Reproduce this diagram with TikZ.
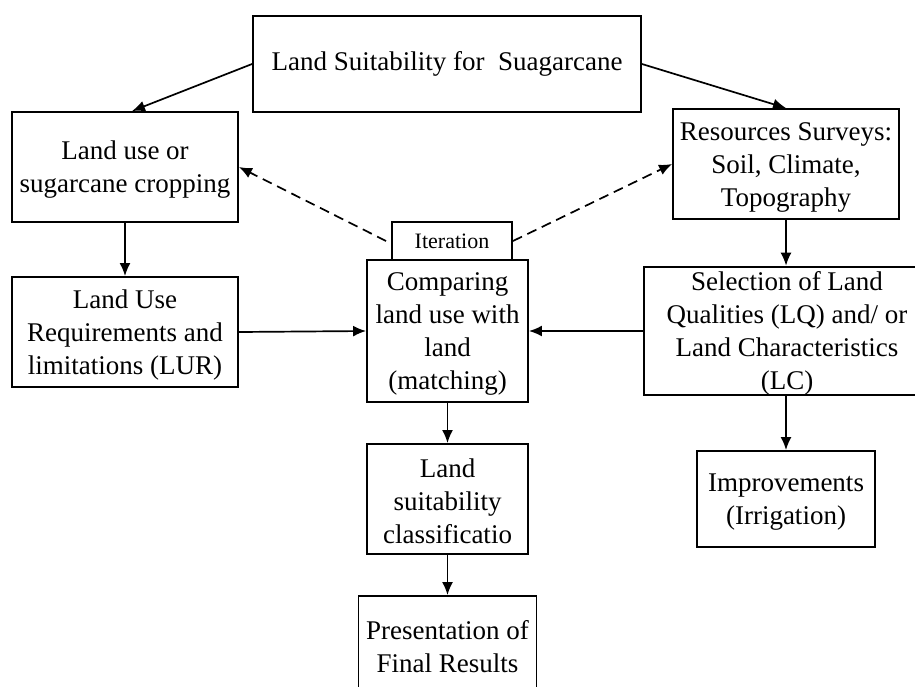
\documentclass[tikz,border=0pt]{standalone}
\usepackage{fontspec}
\setmainfont{Liberation Serif}
\usetikzlibrary{arrows.meta}
\newcommand\topstrut{\rule{0pt}{24pt}}
\begin{document}
\begin{tikzpicture}[x=1pt,y=-1pt,
  box/.style={draw, line width=1.9pt, rectangle, align=center, inner sep=0pt,
    font=\fontsize{27}{33}\selectfont},
  conn/.style={line width=1.7pt, -{Latex[length=13pt,width=11pt]}},
  dconn/.style={conn, dash pattern=on 10pt off 6pt}]
\useasboundingbox (0,0) rectangle (915,686);
\clip (0,0) rectangle (915,686);
\node[box, minimum width=388pt, minimum height=96pt] (top) at (447,64)
  {Land Suitability for\ \ Suagarcane};
\node[box, minimum width=226pt, minimum height=110pt] (left) at (125,167)
  {\topstrut Land use or\\sugarcane cropping};
\node[box, minimum width=226pt, minimum height=110pt] (right) at (786,164)
  {\topstrut Resources Surveys:\\Soil, Climate,\\Topography};
\node[box, minimum width=120pt, minimum height=38pt, font=\fontsize{22}{26}\selectfont] (iter) at (452,241)
  {Iteration};
\node[box, minimum width=161pt, minimum height=142pt] (comp) at (447.5,331)
  {\topstrut Comparing\\land use with\\land\\(matching)};
\node[box, minimum width=226pt, minimum height=110pt] (lur) at (125,332)
  {\topstrut Land Use\\Requirements and\\limitations (LUR)};
\node[box, minimum width=286pt, minimum height=128pt] (sel) at (787,331)
  {\topstrut Selection of Land\\Qualities (LQ) and/ or\\Land Characteristics\\(LC)};
\node[box, minimum width=161pt, minimum height=110pt] (lsc) at (447.5,499)
  {\topstrut Land\\suitability\\classificatio};
\node[box, minimum width=178pt, minimum height=96pt] (imp) at (786,499)
  {\topstrut Improvements\\(Irrigation)};
\node[box, minimum width=178pt, minimum height=102pt] (pres) at (447.5,647)
  {Presentation of\\Final Results};

\draw[conn] (top.west) -- ([xshift=7pt]left.north);
\draw[conn] (top.east) -- (right.north);
\draw[conn] (left.south) -- (lur.north);
\draw[conn] (right.south) -- (right.south |- sel.north);
\draw[conn] (lur.east) -- (comp.west);
\draw[conn] (sel.west) -- (comp.east);
\draw[conn] (comp.south) -- (lsc.north);
\draw[conn] (lsc.south) -- (pres.north);
\draw[conn] (sel.south -| imp.north) -- (imp.north);
\draw[dconn] ([xshift=-5pt]iter.west) -- (left.east);
\draw[dconn] (iter.east) -- (right.west);
\end{tikzpicture}
\end{document}
